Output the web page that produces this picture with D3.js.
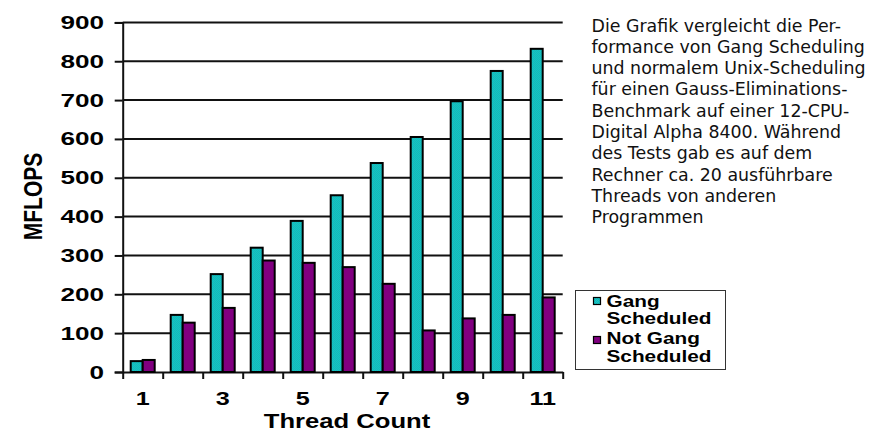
<!DOCTYPE html>
<html>
<head>
<meta charset="utf-8">
<script src="https://cdn.jsdelivr.net/npm/d3@7"></script>
<style>
  html, body { margin: 0; padding: 0; background: #fff; }
  svg { display: block; }
</style>
</head>
<body>
<svg id="chart" width="877" height="435"></svg>
<script>
// Gauss elimination benchmark on a 12-CPU Digital Alpha 8400 (MFLOPS)
const threadCounts = [1, 2, 3, 4, 5, 6, 7, 8, 9, 10, 11];
const gangScheduled = [28, 147, 252, 320, 389, 455, 538, 605, 697, 775, 832];
const notGangScheduled = [31, 127, 165, 287, 281, 270, 227, 107, 138, 147, 192];
const yTicks = [0, 100, 200, 300, 400, 500, 600, 700, 800, 900];
const xLabelTicks = [1, 3, 5, 7, 9, 11];
const noteLines = [
  "Die Grafik vergleicht die Per-",
  "formance von Gang Scheduling",
  "und normalem Unix-Scheduling",
  "für einen Gauss-Eliminations-",
  "Benchmark auf einer 12-CPU-",
  "Digital Alpha 8400. Während",
  "des Tests gab es auf dem",
  "Rechner ca. 20 ausführbare",
  "Threads von anderen",
  "Programmen"
];

const svg = d3.select("#chart");
const plot = { left: 122.7, right: 562.7, top: 22.4, bottom: 372 };
const boldFont = "'Liberation Sans', Arial, sans-serif";

// fine cyan dither used for the gang-scheduled bars
const defs = svg.append("defs");
const pat = defs.append("pattern")
  .attr("id", "gangFill").attr("patternUnits", "userSpaceOnUse")
  .attr("width", 2).attr("height", 2);
pat.append("rect").attr("width", 2).attr("height", 2).attr("fill", "#00d4d4");
pat.append("rect").attr("x", 1).attr("y", 0).attr("width", 1).attr("height", 1).attr("fill", "#2aa8a8");
pat.append("rect").attr("x", 0).attr("y", 1).attr("width", 1).attr("height", 1).attr("fill", "#2aa8a8");

const y = d3.scaleLinear().domain([0, 900]).range([plot.bottom, plot.top]);
const x = d3.scaleBand().domain(threadCounts)
  .range([plot.left, plot.right]).paddingInner(0.4).paddingOuter(0.2);
const xInner = d3.scaleBand().domain([0, 1]).range([0, x.bandwidth()]);
const xEdge = d3.scaleLinear().domain([0.5, 11.5]).range([plot.left, plot.right]);

// horizontal gridlines
svg.append("g").selectAll("line").data(yTicks.slice(1)).join("line")
  .attr("x1", plot.left).attr("x2", plot.right)
  .attr("y1", d => y(d)).attr("y2", d => y(d))
  .attr("stroke", "#111").attr("stroke-width", 2);

// y axis with outward ticks
const yAxis = svg.append("g").attr("transform", `translate(${plot.left},0)`)
  .call(d3.axisLeft(y).tickValues(yTicks).tickSize(8).tickFormat(""));
yAxis.selectAll("line").attr("stroke", "#111").attr("stroke-width", 2);
yAxis.select(".domain").attr("stroke", "#111").attr("stroke-width", 2);

// bottom axis with ticks on category boundaries
const xAxis = svg.append("g").attr("transform", `translate(0,${plot.bottom})`)
  .call(d3.axisBottom(xEdge).tickValues(d3.range(0.5, 12, 1)).tickSize(7).tickSizeOuter(0).tickFormat(""));
xAxis.selectAll("line").attr("stroke", "#111").attr("stroke-width", 2);
xAxis.select(".domain").attr("stroke", "#111").attr("stroke-width", 2);

// bars
const groups = svg.append("g").selectAll("g").data(threadCounts).join("g")
  .attr("transform", d => `translate(${x(d)},0)`);
groups.append("rect")
  .attr("x", xInner(0)).attr("width", xInner.bandwidth())
  .attr("y", (d, i) => y(gangScheduled[i]))
  .attr("height", (d, i) => y(0) - y(gangScheduled[i]))
  .attr("fill", "url(#gangFill)").attr("stroke", "#000").attr("stroke-width", 2);
groups.append("rect")
  .attr("x", xInner(1)).attr("width", xInner.bandwidth())
  .attr("y", (d, i) => y(notGangScheduled[i]))
  .attr("height", (d, i) => y(0) - y(notGangScheduled[i]))
  .attr("fill", "#800080").attr("stroke", "#000").attr("stroke-width", 2);

// horizontally widened bold labels
function wideText(g, tx, ty, sx, size, anchor, str, rot) {
  return g.append("text")
    .attr("transform", `translate(${tx},${ty}) scale(${sx},1)` + (rot ? ` rotate(${rot})` : ""))
    .attr("text-anchor", anchor)
    .attr("font-family", boldFont).attr("font-weight", "bold")
    .attr("font-size", size).attr("fill", "#000")
    .text(str);
}

const labels = svg.append("g");
yTicks.forEach(v => wideText(labels, 104, y(v) + 6.5, 1.45, 18, "end", String(v)));
xLabelTicks.forEach(v => wideText(labels, x(v) + x.bandwidth() / 2, 405, 1.4, 18, "middle", String(v)));
wideText(labels, 347, 428, 1.22, 21, "middle", "Thread Count");
wideText(labels, 41.5, 196.5, 1.25, 21, "middle", "MFLOPS", -90);

// legend
const legend = svg.append("g");
legend.append("rect").attr("x", 575.5).attr("y", 290.5).attr("width", 150).attr("height", 79)
  .attr("fill", "#fff").attr("stroke", "#333").attr("stroke-width", 1);
const legendRows = [
  { fill: "url(#gangFill)", sy: 297, lines: ["Gang", "Scheduled"], base: 306.5 },
  { fill: "#800080", sy: 336, lines: ["Not Gang", "Scheduled"], base: 344 }
];
legendRows.forEach(r => {
  legend.append("rect").attr("x", 593.5).attr("y", r.sy + 0.5).attr("width", 7).attr("height", 7)
    .attr("fill", r.fill).attr("stroke", "#000").attr("stroke-width", 1.2);
  r.lines.forEach((t, j) => wideText(legend, 606.5, r.base + j * 17.5, 1.26, 16.5, "start", t));
});

// explanatory note
const note = svg.append("text")
  .attr("font-family", "'DejaVu Sans', Verdana, sans-serif")
  .attr("font-size", 17.4).attr("fill", "#111");
noteLines.forEach((t, i) => note.append("tspan").attr("x", 591.5).attr("y", 31.5 + i * 21.3).text(t));
</script>
</body>
</html>
